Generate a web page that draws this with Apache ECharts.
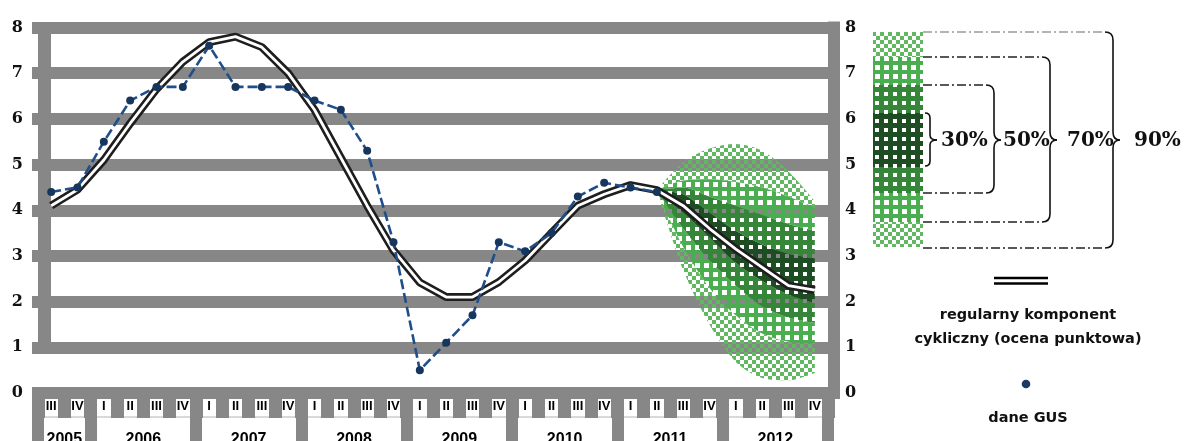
<!DOCTYPE html>
<html>
<head>
<meta charset="utf-8">
<script src="https://cdn.jsdelivr.net/npm/echarts@6/dist/echarts.min.js"></script>
<style>
  html, body { margin: 0; padding: 0; background: #ffffff; }
  #chart { width: 1189px; height: 441px; }
</style>
</head>
<body>
<div id="chart"></div>
<script>
// Quarter labels, 2005 Q3 .. 2012 Q4
const quarterLabels = [
  'III', 'IV',
  'I', 'II', 'III', 'IV',
  'I', 'II', 'III', 'IV',
  'I', 'II', 'III', 'IV',
  'I', 'II', 'III', 'IV',
  'I', 'II', 'III', 'IV',
  'I', 'II', 'III', 'IV',
  'I', 'II', 'III', 'IV'
];
const yearLabels = ['2005', '2006', '2007', '2008', '2009', '2010', '2011', '2012'];
// index of the first quarter of each year
const yearFirstQuarter = [0, 2, 6, 10, 14, 18, 22, 26];

// GUS data (y/y growth, %)
const gusData = [
  4.4, 4.5,
  5.5, 6.4, 6.7, 6.7,
  7.6, 6.7, 6.7, 6.7,
  6.4, 6.2, 5.3, 3.3,
  0.5, 1.1, 1.7, 3.3,
  3.1, 3.5, 4.3, 4.6,
  4.5, 4.4
];

// regular cyclical component (point estimate)
const cycleData = [
  4.1, 4.45,
  5.1, 5.9, 6.65, 7.25,
  7.68, 7.8, 7.57, 7.0,
  6.2, 5.15, 4.1, 3.12,
  2.42, 2.1, 2.1, 2.43,
  2.9, 3.5, 4.1, 4.35,
  4.55, 4.44, 4.1, 3.6,
  3.15, 2.75, 2.35, 2.25
];

// fan chart bounds, from 2011 Q2 to 2012 Q4
const fanStart = 23;
const upper90 = [4.44, 5.05, 5.35, 5.45, 5.3, 4.85, 4.2];
const upper70 = [4.44, 4.65, 4.68, 4.62, 4.5, 4.3, 4.05];
const upper50 = [4.44, 4.5, 4.3, 4.1, 3.9, 3.7, 3.55];
const upper30 = [4.44, 4.35, 3.95, 3.55, 3.25, 3.05, 2.95];
const lower30 = [4.44, 3.95, 3.4, 2.85, 2.45, 2.15, 1.97];
const lower50 = [4.44, 3.6, 2.9, 2.35, 1.9, 1.65, 1.53];
const lower70 = [4.44, 3.2, 2.3, 1.7, 1.3, 1.12, 1.09];
const lower90 = [4.44, 2.7, 1.5, 0.68, 0.33, 0.28, 0.44];

const bandLabels = ['30%', '50%', '70%', '90%'];
const legendCycleText = ['regularny komponent', 'cykliczny (ocena punktowa)'];
const legendGusText = 'dane GUS';

// ---------------------------------------------------------------
const GRID_GRAY = '#878787';

function checkerPattern(cell, color) {
  const c = document.createElement('canvas');
  c.width = c.height = cell * 2;
  const g = c.getContext('2d');
  g.fillStyle = color;
  g.fillRect(0, 0, cell, cell);
  g.fillRect(cell, cell, cell, cell);
  return { image: c, repeat: 'repeat' };
}
function holedPattern(tile, hole, color) {
  const c = document.createElement('canvas');
  c.width = c.height = tile;
  const g = c.getContext('2d');
  g.fillStyle = color;
  g.fillRect(0, 0, tile, tile);
  const off = Math.floor((tile - hole) / 2);
  g.clearRect(off, off, hole, hole);
  return { image: c, repeat: 'repeat' };
}
const pat90 = checkerPattern(4, '#62b862');
const pat70 = holedPattern(9, 5, '#4aad4f');
const pat50 = holedPattern(9, 4, '#36863a');
const pat30 = holedPattern(9, 4, '#1f4d23');

const n = quarterLabels.length;
function pad(arr) {
  const out = new Array(n).fill(null);
  arr.forEach((v, k) => { out[fanStart + k] = v; });
  return out;
}
function diff(a, b) {
  return pad(a.map((v, k) => +(v - b[k]).toFixed(3)));
}

// stacked bands from the lowest bound upwards
const fanLayers = [
  { data: pad(lower90), fill: null },
  { data: diff(lower70, lower90), fill: pat90 },
  { data: diff(lower50, lower70), fill: pat70 },
  { data: diff(lower30, lower50), fill: pat50 },
  { data: diff(upper30, lower30), fill: pat30 },
  { data: diff(upper50, upper30), fill: pat50 },
  { data: diff(upper70, upper50), fill: pat70 },
  { data: diff(upper90, upper70), fill: pat90 }
];

const fanSeries = fanLayers.map((layer, k) => ({
  type: 'line',
  name: 'fan' + k,
  stack: 'fan',
  xAxisIndex: 0,
  yAxisIndex: 0,
  data: layer.data,
  smooth: 0.3,
  symbol: 'none',
  silent: true,
  z: 2,
  lineStyle: { width: 0, opacity: 0 },
  areaStyle: layer.fill ? { color: layer.fill, opacity: 1 } : { opacity: 0 }
}));

const yearLabelIndex = {};
yearFirstQuarter.forEach((first, k) => {
  const last = k + 1 < yearFirstQuarter.length ? yearFirstQuarter[k + 1] - 1 : n - 1;
  yearLabelIndex[Math.floor((first + last) / 2)] = yearLabels[k];
});

const chart = echarts.init(document.getElementById('chart'), null, { renderer: 'canvas' });
const bandW = 790 / n;

// ---- legend graphics on the right ----
const colX = 873, colW = 50, colR = colX + colW;
const legendBlocks = [
  [32, 57, pat90], [57, 85, pat70], [85, 113, pat50], [113, 167, pat30],
  [167, 193, pat50], [193, 222, pat70], [222, 247, pat90]
];
const graphics = [];
legendBlocks.forEach(b => {
  graphics.push({ type: 'rect', shape: { x: colX, y: b[0], width: colW, height: b[1] - b[0] },
    style: { fill: b[2] }, z: 10 });
});
// braces: [x of vertical stroke, top, bottom, text left]
const braces = [
  [930, 113, 166, 941],
  [994, 85, 193, 1003],
  [1050, 57, 222, 1067],
  [1113, 32, 248, 1134]
];
const midY = 140;
braces.forEach((b, k) => {
  const x = b[0], yt = b[1], yb = b[2], r = k === 0 ? 5 : 8, tip = 7;
  const stroke = { stroke: '#111', lineWidth: 1.6, fill: null };
  if (k > 0) {
    graphics.push({ type: 'line', shape: { x1: colR, y1: yt, x2: x - r, y2: yt },
      style: { stroke: k === 3 ? '#9a9a9a' : '#222', lineWidth: 1.4, lineDash: [9, 3, 2, 3] }, z: 10 });
    graphics.push({ type: 'line', shape: { x1: colR, y1: yb, x2: x - r, y2: yb },
      style: { stroke: '#222', lineWidth: 1.4, lineDash: [9, 3, 2, 3] }, z: 10 });
  }
  graphics.push({ type: 'bezierCurve', shape: { x1: x - r, y1: yt, cpx1: x, cpy1: yt, x2: x, y2: yt + r }, style: stroke, z: 10 });
  graphics.push({ type: 'line', shape: { x1: x, y1: yt + r, x2: x, y2: midY - r }, style: stroke, z: 10 });
  graphics.push({ type: 'bezierCurve', shape: { x1: x, y1: midY - r, cpx1: x, cpy1: midY, x2: x + tip, y2: midY }, style: stroke, z: 10 });
  graphics.push({ type: 'bezierCurve', shape: { x1: x + tip, y1: midY, cpx1: x, cpy1: midY, x2: x, y2: midY + r }, style: stroke, z: 10 });
  graphics.push({ type: 'line', shape: { x1: x, y1: midY + r, x2: x, y2: yb - r }, style: stroke, z: 10 });
  graphics.push({ type: 'bezierCurve', shape: { x1: x, y1: yb - r, cpx1: x, cpy1: yb, x2: x - r, y2: yb }, style: stroke, z: 10 });
  graphics.push({ type: 'text', x: b[3], y: midY + 1, z: 10,
    style: { text: bandLabels[k], fill: '#111', font: 'bold 20px "DejaVu Serif"', verticalAlign: 'middle', align: 'left' } });
});
// cyclical component key
graphics.push({ type: 'line', shape: { x1: 994, y1: 278, x2: 1048, y2: 278 }, style: { stroke: '#000', lineWidth: 2.6 }, z: 10 });
graphics.push({ type: 'line', shape: { x1: 994, y1: 283.5, x2: 1048, y2: 283.5 }, style: { stroke: '#000', lineWidth: 2.6 }, z: 10 });
legendCycleText.forEach((t, k) => {
  graphics.push({ type: 'text', x: 1028, y: 315 + k * 24, z: 10,
    style: { text: t, fill: '#111', font: 'bold 14.5px "DejaVu Sans"', align: 'center', verticalAlign: 'middle' } });
});
graphics.push({ type: 'circle', shape: { cx: 1026, cy: 384, r: 4.3 }, style: { fill: '#1b3a63' }, z: 10 });
graphics.push({ type: 'text', x: 1028, y: 418, z: 10,
  style: { text: legendGusText, fill: '#111', font: 'bold 14.5px "DejaVu Sans"', align: 'center', verticalAlign: 'middle' } });

const valueLabel = {
  color: '#111', fontFamily: 'DejaVu Serif', fontWeight: 'bold', fontSize: 16
};

const option = {
  animation: false,
  backgroundColor: '#ffffff',
  grid: [
    { left: 38, right: 361, top: 27.5, bottom: 48, outerBoundsMode: 'none', containLabel: false },
    { left: 38, right: 361, top: 33, bottom: 92, outerBoundsMode: 'none', containLabel: false }
  ],
  xAxis: [
    {
      type: 'category', gridIndex: 0, data: quarterLabels, boundaryGap: true, position: 'bottom',
      axisLine: { show: true, onZero: false, lineStyle: { color: GRID_GRAY, width: 12, cap: 'square' } },
      axisTick: { show: true, interval: 0, length: 25, lineStyle: { color: GRID_GRAY, width: 13, cap: 'butt' } },
      axisLabel: { interval: 0, margin: 7, color: '#000', fontFamily: 'Liberation Sans',
        fontWeight: 'bold', fontSize: 13 },
      splitLine: { show: false }
    },
    {
      type: 'category', gridIndex: 0, data: quarterLabels, boundaryGap: true, position: 'bottom', offset: 24,
      axisLine: { show: true, onZero: false, lineStyle: { color: '#cdcdcd', width: 1.5 } },
      axisTick: { show: true, interval: (i) => yearFirstQuarter.indexOf(i) >= 0, length: 26,
        lineStyle: { color: GRID_GRAY, width: 12, cap: 'butt' } },
      axisLabel: {
        interval: (i) => yearLabelIndex[i] !== undefined,
        formatter: (v, i) => yearLabelIndex[i] || '',
        padding: [0, 0, 0, bandW], margin: 15, color: '#000',
        fontFamily: 'Liberation Sans', fontWeight: 'bold', fontSize: 16
      },
      splitLine: { show: false }
    },
    { type: 'category', gridIndex: 1, data: quarterLabels, show: false }
  ],
  yAxis: [
    {
      type: 'value', gridIndex: 0, min: 0, max: 8, interval: 1, position: 'left', offset: -6,
      axisLine: { show: false },
      axisTick: { show: true, length: 12, lineStyle: { color: GRID_GRAY, width: 12, cap: 'butt' } },
      axisLabel: Object.assign({ margin: 21 }, valueLabel),
      splitLine: { show: true, lineStyle: { color: GRID_GRAY, width: 12, cap: 'butt' } }
    },
    {
      type: 'value', gridIndex: 0, min: 0, max: 8, interval: 1, position: 'right', offset: 6,
      axisLine: { show: true, onZero: false, lineStyle: { color: GRID_GRAY, width: 12, cap: 'square' } },
      axisTick: { show: false },
      axisLabel: Object.assign({ margin: 11 }, valueLabel),
      splitLine: { show: false }
    },
    {
      type: 'value', gridIndex: 1, min: 0, max: 1, position: 'left', offset: -6,
      axisLine: { show: true, onZero: false, lineStyle: { color: GRID_GRAY, width: 13, cap: 'butt' } },
      axisTick: { show: false }, axisLabel: { show: false }, splitLine: { show: false }
    }
  ],
  graphic: graphics,
  series: fanSeries.concat([
    {
      type: 'line', name: 'cycle', xAxisIndex: 0, yAxisIndex: 0, data: cycleData,
      symbol: 'none', silent: true, z: 3,
      lineStyle: { color: '#1e1e1e', width: 8 }
    },
    {
      type: 'line', name: 'cycleInner', xAxisIndex: 0, yAxisIndex: 0, data: cycleData,
      symbol: 'none', silent: true, z: 4,
      lineStyle: { color: '#ffffff', width: 2.8 }
    },
    {
      type: 'line', name: 'dane GUS', xAxisIndex: 0, yAxisIndex: 0, data: gusData,
      symbol: 'circle', symbolSize: 8, showAllSymbol: true, silent: true, z: 5,
      lineStyle: { color: '#1f4e8a', width: 2.6, type: [10, 4] },
      itemStyle: { color: '#17365d' }
    }
  ])
};

chart.setOption(option);
</script>
</body>
</html>
